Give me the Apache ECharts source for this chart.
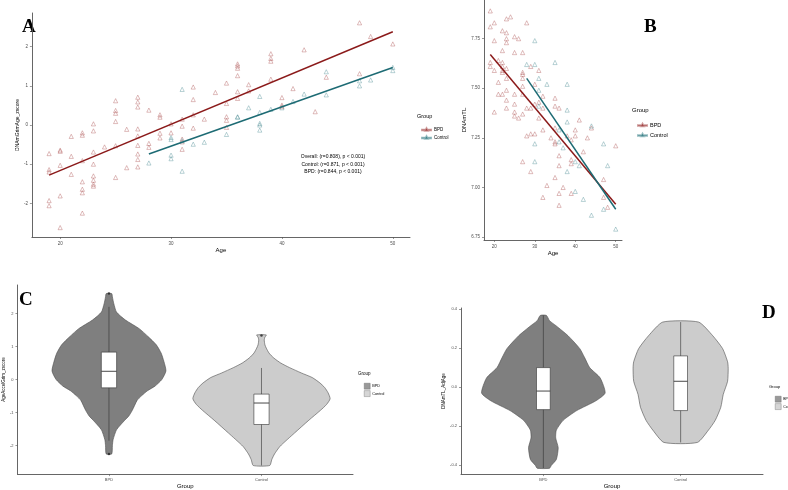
<!DOCTYPE html>
<html>
<head>
<meta charset="utf-8">
<script src="https://cdn.jsdelivr.net/npm/echarts@6/dist/echarts.min.js"></script>
<style>
html, body { margin: 0; background: #fff; }
#main { width: 788px; height: 490px; }
</style>
</head>
<body>
<div id="main"></div>
<script>
// ---- data ----
var groups = ['BPD', 'Control'];
var ageTicks = [20, 30, 40, 50];
var grimTicks = [-2, -1, 0, 1, 2];
var tlTicks = [6.75, 7.00, 7.25, 7.50, 7.75];
var adjTicks = [-0.4, -0.2, 0.0, 0.2, 0.4];

// A: [age, DNAmGrimAge z-score]
var grimBPD = [
  [19,-0.73],[19,-1.14],[19,-1.2],[19,-1.93],[19,-2.06],
  [20,-0.64],[20,-0.67],[20,-1.03],[20,-1.81],[20,-2.62],
  [21,-0.29],[21,-0.8],[21,-1.26],
  [22,-0.2],[22,-0.26],[22,-0.91],[22,-1.45],[22,-1.64],[22,-1.73],[22,-2.25],
  [23,0.03],[23,-0.15],[23,-0.69],[23,-1.0],[23,-1.3],[23,-1.41],[23,-1.51],[23,-1.56],
  [24,-0.56],
  [25,0.62],[25,0.37],[25,0.3],[25,0.09],[25,-0.53],[25,-1.34],
  [26,-0.11],[26,-1.09],
  [27,0.71],[27,0.59],[27,0.46],[27,-0.1],[27,-0.28],[27,-0.52],[27,-0.74],[27,-0.88],[27,-1.07],
  [28,0.38],[28,-0.47],[28,-0.57],
  [29,0.26],[29,0.2],[29,-0.21],[29,-0.33],
  [30,0.03],[30,-0.2],
  [31,0.15],[31,-0.03],[31,-0.36],[31,-0.43],[31,-0.62],
  [32,0.97],[32,0.65],[32,0.26],[32,-0.08],
  [33,0.15],[34,0.83],
  [35,1.07],[35,0.55],[35,0.21],[35,0.12],[35,-0.06],
  [36,1.56],[36,1.51],[36,1.45],[36,1.26],[36,0.85],[36,0.68],
  [37,1.03],[37,0.87],
  [39,1.82],[39,1.7],[39,1.63],[39,1.17],
  [40,0.7],[40,0.51],[40,0.47],
  [41,0.93],[42,1.92],[43,0.34],[44,1.22],
  [47,2.61],[47,1.31],[48,2.26],[50,2.07]
];
var grimControl = [
  [28,-0.97],[30,-0.32],[30,-0.37],[30,-0.77],[30,-0.86],
  [31,0.91],[31,-0.4],[31,-1.18],[32,-0.49],[33,-0.44],[35,-0.24],
  [36,0.21],[36,0.2],[37,0.44],
  [38,0.73],[38,0.32],[38,0.04],[38,0.0],[38,-0.13],
  [39,0.4],[40,0.44],[41,0.6],[42,0.79],[44,1.36],[44,0.77],
  [47,1.13],[47,1.0],[48,1.15],[50,1.47],[50,1.39]
];
var grimFitBPD = [[19,-1.28],[50,2.38]];
var grimFitControl = [[28,-0.74],[50,1.47]];
var grimStats = [
  'Overall: (r=0.808), p < 0.001)',
  'Control: (r=0.871, p < 0.001)',
  'BPD: (r=0.844, p < 0.001)'
];

// B: [age, DNAmTL]
var tlBPD = [
  [19,7.89],[19,7.81],[19,7.63],[19,7.61],
  [20,7.83],[20,7.74],[20,7.59],[20,7.38],
  [21,7.64],[21,7.53],[21,7.47],
  [22,7.79],[22,7.69],[22,7.63],[22,7.61],[22,7.59],[22,7.58],[22,7.47],
  [23,7.85],[23,7.78],[23,7.75],[23,7.73],[23,7.60],[23,7.55],[23,7.49],[23,7.44],[23,7.40],
  [24,7.86],
  [25,7.76],[25,7.68],[25,7.47],[25,7.42],[25,7.38],[25,7.36],
  [26,7.75],[26,7.35],
  [27,7.68],[27,7.58],[27,7.57],[27,7.55],[27,7.51],[27,7.47],[27,7.37],[27,7.13],
  [28,7.83],[28,7.40],[28,7.26],
  [29,7.61],[29,7.40],[29,7.27],[29,7.08],
  [30,7.52],[30,7.42],[30,7.27],
  [31,7.59],[31,7.43],[31,7.35],
  [32,7.46],[32,7.40],[32,7.29],[32,6.95],
  [33,7.01],[34,7.25],
  [35,7.45],[35,7.41],[35,7.30],[35,7.23],[35,7.22],[35,7.05],
  [36,7.40],[36,7.16],[36,7.11],[36,6.97],[36,6.91],
  [37,7.00],[38,7.26],
  [39,7.24],[39,7.14],[39,7.12],[39,6.97],
  [40,7.29],[40,7.26],[41,7.34],[42,7.18],[43,7.25],[44,7.30],
  [47,7.04],[47,6.95],[48,6.90],[50,7.21]
];
var tlControl = [
  [28,7.62],[30,7.74],[30,7.62],[30,7.22],[30,7.13],[31,7.55],[31,7.49],[31,7.41],
  [33,7.52],[35,7.63],[36,7.29],[36,7.23],[37,7.20],
  [38,7.52],[38,7.39],[38,7.33],[38,7.08],[40,7.13],[40,6.98],[41,7.11],[42,6.94],
  [44,7.31],[44,6.86],[47,7.22],[47,6.89],[48,7.11],[50,6.79]
];
var tlFitBPD = [[19,7.67],[50,6.915]];
var tlFitControl = [[28,7.55],[50,6.89]];

// C: violin profiles [AgeAccelGrim, relative density], box stats [min, q1, median, q3, max]
var accelViolinBPD = [
  [2.6,0.04],[2.5,0.05],[2.3,0.07],[2.04,0.11],[1.8,0.24],[1.54,0.44],[1.3,0.57],
  [1.05,0.69],[0.8,0.76],[0.55,0.8],[0.26,0.83],[0.0,0.77],[-0.2,0.67],[-0.34,0.56],
  [-0.5,0.47],[-0.63,0.41],[-0.93,0.34],[-1.1,0.29],[-1.23,0.23],[-1.52,0.11],
  [-1.82,0.06],[-2.0,0.05],[-2.25,0.04]
];
var accelViolinControl = [
  [1.35,0.07],[1.28,0.05],[1.2,0.04],[1.05,0.05],[0.95,0.07],[0.8,0.11],[0.65,0.18],
  [0.5,0.28],[0.36,0.41],[0.2,0.58],[0.06,0.74],[-0.1,0.85],[-0.24,0.92],[-0.4,0.97],
  [-0.58,1.0],[-0.75,0.95],[-0.93,0.86],[-1.23,0.69],[-1.62,0.48],[-2.02,0.27],
  [-2.25,0.19],[-2.42,0.15],[-2.6,0.12]
];
var accelBox = [[-1.85,-0.25,0.25,0.83,2.2],[-2.6,-1.36,-0.71,-0.44,0.35]];
var accelOutliers = [[1,2.6],[1,-2.25],[2,1.33]];

// D: violin profiles [DNAmTL_AdjAge, relative density], box stats
var adjViolinBPD = [
  [0.367,0.05],[0.34,0.1],[0.313,0.21],[0.263,0.4],[0.197,0.59],[0.15,0.67],[0.1,0.75],
  [0.047,0.92],[-0.03,1.0],[-0.07,0.85],[-0.12,0.54],[-0.17,0.32],[-0.22,0.21],
  [-0.26,0.2],[-0.31,0.24],[-0.37,0.21],[-0.4,0.13],[-0.415,0.1]
];
var adjViolinControl = [
  [0.333,0.29],[0.263,0.52],[0.197,0.68],[0.13,0.76],[0.097,0.77],[0.03,0.76],
  [-0.037,0.69],[-0.103,0.65],[-0.17,0.56],[-0.22,0.45],[-0.283,0.27]
];
var adjBox = [[-0.415,-0.115,-0.02,0.1,0.367],[-0.283,-0.12,0.03,0.16,0.333]];

// ---- chart ----
var bpdLine = '#8b1a1a', ctrlLine = '#1d6b74';
var bpdPoint = 'rgba(165,70,70,0.65)', ctrlPoint = 'rgba(60,130,138,0.65)';
var darkFill = '#7f7f7f', lightFill = '#cccccc';
var violinHalf = 0.45, boxHalf = 0.05;
var sans = 'Liberation Sans';

var chart = echarts.init(document.getElementById('main'));

function axis(gridIndex, o) {
  var ax = {
    gridIndex: gridIndex, type: 'value', min: o.min, max: o.max,
    name: o.name, nameLocation: 'middle', nameGap: o.gap,
    nameTextStyle: { fontSize: o.nameSize || 6, color: '#000', fontFamily: sans },
    axisLine: { show: true, onZero: false, lineStyle: { color: '#555', width: 0.9 } },
    axisTick: { show: true, length: 2, customValues: o.ticks, lineStyle: { color: '#555', width: 0.6 } },
    axisLabel: { customValues: o.ticks, fontSize: o.labelSize || 4.5, color: '#4d4d4d', margin: 4,
      fontFamily: sans, formatter: o.fmt },
    splitLine: { show: false }
  };
  return ax;
}

function scatter(name, idx, data, color) {
  return { type: 'scatter', name: name, xAxisIndex: idx, yAxisIndex: idx, data: data,
    symbol: 'triangle', symbolSize: 4.2, silent: true,
    itemStyle: { color: 'rgba(0,0,0,0)', borderColor: color, borderWidth: 0.7 } };
}
function fit(name, idx, data, color) {
  return { type: 'line', name: name, xAxisIndex: idx, yAxisIndex: idx, data: data,
    symbol: 'none', silent: true, z: 3, lineStyle: { color: color, width: 1.5 } };
}
function violin(name, idx, pos, profile, color) {
  return {
    type: 'custom', name: name, xAxisIndex: idx, yAxisIndex: idx, silent: true,
    itemStyle: { color: color },
    data: [[pos, profile[0][0]]],
    renderItem: function (params, api) {
      var right = profile.map(function (p) { return api.coord([pos + p[1] * violinHalf, p[0]]); });
      var left = profile.slice().reverse().map(function (p) { return api.coord([pos - p[1] * violinHalf, p[0]]); });
      return { type: 'polygon', shape: { points: right.concat(left), smooth: 0.2 },
        style: { fill: color, stroke: '#4d4d4d', lineWidth: 0.6 } };
    }
  };
}
function boxes(idx, stats) {
  return {
    type: 'custom', xAxisIndex: idx, yAxisIndex: idx, silent: true, z: 3,
    data: stats.map(function (s, i) { return [i + 1].concat(s); }),
    renderItem: function (params, api) {
      var s = stats[params.dataIndex], x = params.dataIndex + 1;
      var top = api.coord([x, s[4]]), bot = api.coord([x, s[0]]);
      var a = api.coord([x - boxHalf, s[3]]), b = api.coord([x + boxHalf, s[1]]);
      var m1 = api.coord([x - boxHalf, s[2]]), m2 = api.coord([x + boxHalf, s[2]]);
      return { type: 'group', children: [
        { type: 'line', shape: { x1: top[0], y1: top[1], x2: bot[0], y2: bot[1] }, style: { stroke: '#333', lineWidth: 0.6 } },
        { type: 'rect', shape: { x: a[0], y: a[1], width: b[0] - a[0], height: b[1] - a[1] }, style: { fill: '#fff', stroke: '#333', lineWidth: 0.6 } },
        { type: 'line', shape: { x1: m1[0], y1: m1[1], x2: m2[0], y2: m2[1] }, style: { stroke: '#333', lineWidth: 0.9 } }
      ] };
    }
  };
}
function label(text, x, y, size, extra) {
  var st = { text: text, x: x, y: y, fontSize: size, fill: '#000', fontFamily: sans,
    textAlign: 'left', textVerticalAlign: 'middle' };
  for (var k in extra) st[k] = extra[k];
  return { type: 'text', silent: true, style: st };
}

var lineKey = 'path://M0,5.3H24V6.7H0Z M12,1.5L15.5,8H8.5Z';
function lineLegend(left, top, size, gap) {
  return { orient: 'vertical', left: left, top: top, itemWidth: 9, itemHeight: 5, itemGap: gap,
    selectedMode: false, textStyle: { fontSize: size, color: '#000', fontFamily: sans, padding: [0, 0, 0, -2] },
    data: [{ name: 'BPD', icon: lineKey, itemStyle: { color: bpdLine } },
           { name: 'Control', icon: lineKey, itemStyle: { color: ctrlLine } }] };
}
function fillLegend(left, top, size) {
  return { orient: 'vertical', left: left, top: top, itemWidth: 6, itemHeight: 6, itemGap: 1,
    selectedMode: false, textStyle: { fontSize: size, color: '#000', fontFamily: sans, padding: [0, 0, 0, -3] },
    data: [{ name: 'BPD', icon: 'rect', itemStyle: { color: darkFill, borderColor: '#555', borderWidth: 0.4 } },
           { name: 'Control', icon: 'rect', itemStyle: { color: lightFill, borderColor: '#555', borderWidth: 0.4 } }] };
}

var fmt2 = function (v) { return v.toFixed(2); };
var fmt1 = function (v) { return v.toFixed(1); };
var fmtGroup = function (v) { return groups[Math.round(v) - 1]; };
var serif = { fontFamily: 'Liberation Serif', fontWeight: 'bold' };

chart.setOption({
  animation: false,
  grid: [
    { left: 13, top: 13, width: 397, height: 224 },
    { left: 484, top: 0, width: 138, height: 240 },
    { left: 10, top: 285, width: 343, height: 193 },
    { left: 461, top: 308, width: 302, height: 172 }
  ],
  xAxis: [
    axis(0, { min: 17.45, max: 51.55, ticks: ageTicks, name: 'Age', gap: 7 }),
    axis(1, { min: 17.45, max: 51.55, ticks: ageTicks, name: 'Age', gap: 7 }),
    axis(2, { min: 0.4, max: 2.6, ticks: [1, 2], name: 'Group', gap: 6, fmt: fmtGroup, labelSize: 4 }),
    axis(3, { min: 0.4, max: 2.6, ticks: [1, 2], name: 'Group', gap: 6, fmt: fmtGroup, labelSize: 4 })
  ],
  yAxis: [
    axis(0, { min: -2.86, max: 2.86, ticks: grimTicks, name: 'DNAmGrimAge_zscore', gap: 8, nameSize: 5 }),
    axis(1, { min: 6.735, max: 7.945, ticks: tlTicks, name: 'DNAmTL', gap: 13, fmt: fmt2 }),
    axis(2, { min: -2.86, max: 2.86, ticks: grimTicks, name: 'AgeAccelGrim_zscore', gap: 6, nameSize: 4.5, labelSize: 4 }),
    axis(3, { min: -0.445, max: 0.405, ticks: adjTicks, name: 'DNAmTL_AdjAge', gap: 10, nameSize: 4.5, fmt: fmt1, labelSize: 4 })
  ],
  legend: [
    lineLegend(416, 122, 4.5, 3),
    lineLegend(632, 117, 5.5, 4),
    fillLegend(359, 378, 3.8),
    fillLegend(770, 391, 3.5)
  ],
  series: [
    scatter('BPD', 0, grimBPD, bpdPoint),
    scatter('Control', 0, grimControl, ctrlPoint),
    fit('BPD', 0, grimFitBPD, bpdLine),
    fit('Control', 0, grimFitControl, ctrlLine),
    scatter('BPD', 1, tlBPD, bpdPoint),
    scatter('Control', 1, tlControl, ctrlPoint),
    fit('BPD', 1, tlFitBPD, bpdLine),
    fit('Control', 1, tlFitControl, ctrlLine),
    violin('BPD', 2, 1, accelViolinBPD, darkFill),
    violin('Control', 2, 2, accelViolinControl, lightFill),
    boxes(2, accelBox),
    { type: 'scatter', xAxisIndex: 2, yAxisIndex: 2, data: accelOutliers, symbolSize: 2.5, z: 4,
      silent: true, itemStyle: { color: '#222' } },
    violin('BPD', 3, 1, adjViolinBPD, darkFill),
    violin('Control', 3, 2, adjViolinControl, lightFill),
    boxes(3, adjBox)
  ],
  graphic: [
    label('A', 22, 27, 19, serif),
    label('B', 644, 27, 19, serif),
    label('C', 19, 300, 19, serif),
    label('D', 762, 313, 19, serif),
    label('Group', 417, 116, 5.5),
    label('Group', 632, 110, 6),
    label('Group', 358, 374, 4.5),
    label('Group', 769, 387, 4),
    label(grimStats[0], 333, 157, 5, { textAlign: 'center' }),
    label(grimStats[1], 333, 165, 5, { textAlign: 'center' }),
    label(grimStats[2], 333, 172, 5, { textAlign: 'center' })
  ]
});

window.onresize = function () { chart.resize(); };
</script>
</body>
</html>
